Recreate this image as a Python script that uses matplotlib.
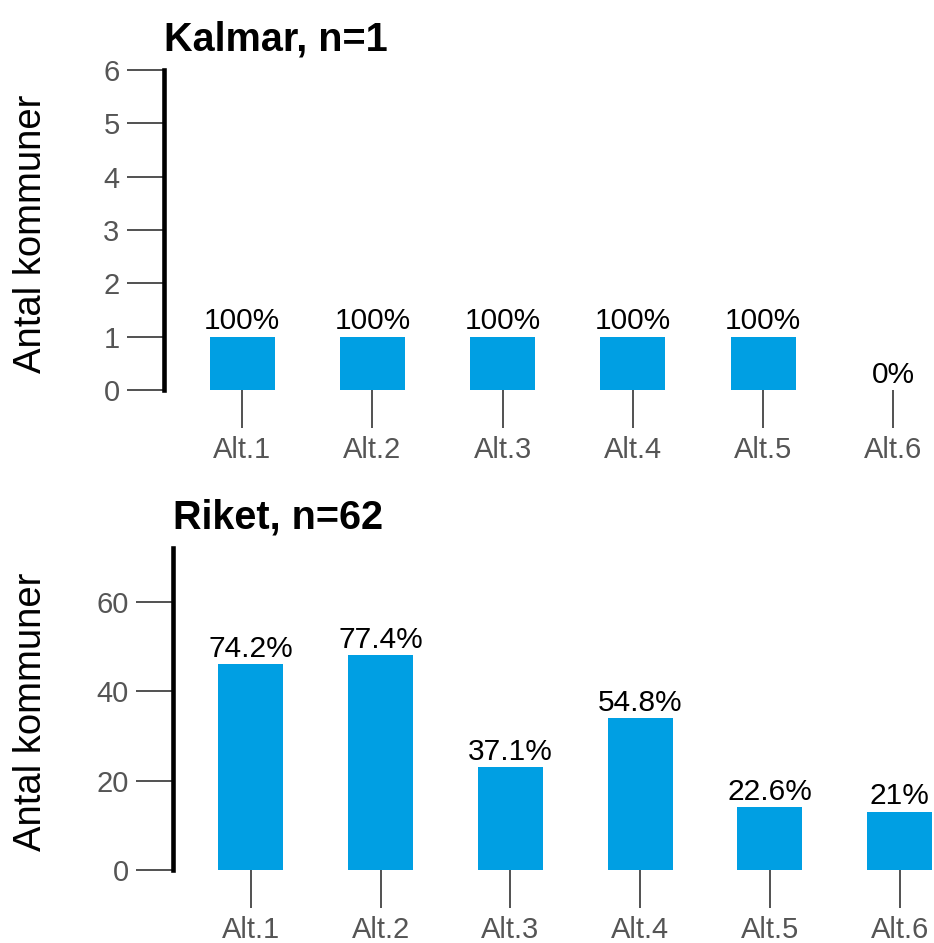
import matplotlib.pyplot as plt

plt.rcParams['font.family'] = ['Liberation Sans', 'DejaVu Sans']

# data
categories = ['Alt.1', 'Alt.2', 'Alt.3', 'Alt.4', 'Alt.5', 'Alt.6']
kalmar_counts = [1, 1, 1, 1, 1, 0]
kalmar_labels = ['100%', '100%', '100%', '100%', '100%', '0%']
riket_counts = [46, 48, 23, 34, 14, 13]
riket_labels = ['74.2%', '77.4%', '37.1%', '54.8%', '22.6%', '21%']
kalmar_yticks = [0, 1, 2, 3, 4, 5, 6]
riket_yticks = [0, 20, 40, 60]

bar_color = '#009FE3'
tick_color = '#555555'

fig = plt.figure(figsize=(9.34, 9.43), dpi=100)

W, H = 934, 943
ax1 = fig.add_axes([164 / W, (H - 390) / H, 762 / W, 320 / H])
ax2 = fig.add_axes([173 / W, (H - 870) / H, 759 / W, 322 / H])


def draw(ax, counts, labels, yticks, ylim, xlim, title):
    x = range(len(categories))
    ax.bar(x, counts, width=0.5, color=bar_color)
    for xi, c, lab in zip(x, counts, labels):
        ax.annotate(lab, (xi, c), xytext=(0, 1), textcoords='offset points',
                    ha='center', va='bottom', fontsize=21.5, color='black')
    ax.set_xlim(*xlim)
    ax.set_ylim(*ylim)
    ax.set_xticks(list(x))
    ax.set_xticklabels(categories)
    ax.set_yticks(yticks)
    for s in ['top', 'right', 'bottom']:
        ax.spines[s].set_visible(False)
    ax.spines['left'].set_linewidth(3.3)
    ax.spines['left'].set_color('black')
    ax.tick_params(axis='y', length=27, width=1.2, color='#333333',
                   labelsize=21, labelcolor=tick_color, pad=5)
    ax.tick_params(axis='x', length=27, width=1.2, color='#333333',
                   labelsize=21, labelcolor=tick_color, pad=6)
    ax.set_title(title, loc='left', fontsize=28.5, fontweight='bold', pad=14)
    ax.set_facecolor('none')


draw(ax1, kalmar_counts, kalmar_labels, kalmar_yticks, (0, 6), (-0.6, 5.25), 'Kalmar, n=1')
draw(ax2, riket_counts, riket_labels, riket_yticks, (0, 72), (-0.6, 5.25), 'Riket, n=62')

fig.text(31 / W, 1 - 234 / H, 'Antal kommuner', rotation=90, ha='center',
         va='center', fontsize=27.5, color='black')
fig.text(31 / W, 1 - 712 / H, 'Antal kommuner', rotation=90, ha='center',
         va='center', fontsize=27.5, color='black')

fig.savefig('out.png', dpi=100)
